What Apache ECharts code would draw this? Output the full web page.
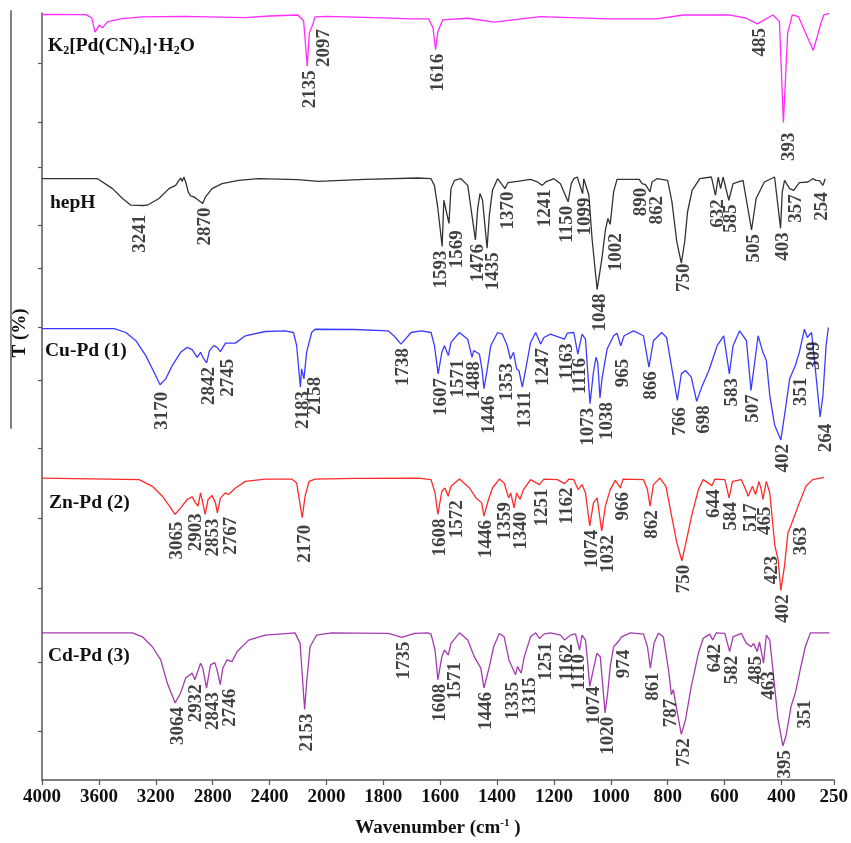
<!DOCTYPE html>
<html><head><meta charset="utf-8">
<script src="https://cdn.jsdelivr.net/npm/echarts@6/dist/echarts.min.js"></script>
<style>html,body{margin:0;padding:0;background:#fff;}#c{width:851px;height:843px;}</style>
</head><body><div id="c"></div>
<script>
// ---------- axis ----------
const TICK_LABELS = ['4000','3600','3200','2800','2400','2000','1800','1600','1400','1200','1000','800','600','400','250'];
// wavenumber -> tick-slot position (the axis changes scale at 2000 cm-1)
const AXIS_KNOTS = [[4000, 0], [2000, 5], [0, 15]];
const Y_TICKS = [722, 663, 618, 559, 516, 456, 403, 334, 264, 193, 119, 49];

// ---------- spectra [wavenumber, T (offset, arbitrary units)] ----------
const K2_SPECTRUM = [[4000,771.5],[3690,771.3],[3650,768],[3627,753.7],[3597,761],[3575,758],[3540,764],[3450,767],[3300,769],[3000,769.5],[2570,768.3],[2400,770],[2200,771],[2160,765],[2135,719.3],[2120,753],[2097,761],[2080,769],[2000,769.5],[1800,768],[1700,767],[1640,767],[1625,758],[1616,736],[1608,754.3],[1591,766],[1503,767.7],[1410,763.7],[1248,769.3],[1007,767],[838,767],[745,771],[583,771],[523,767.7],[485,762],[430,771],[418,767.7],[407,764.3],[393,662.7],[378,753],[362,771],[340,769.3],[288,735.3],[261,762.7],[251,771],[232,772.7]];
const HEPH_SPECTRUM = [[4000,606],[3609,606],[3504,596],[3434,586],[3375,579.3],[3290,579],[3259,579.3],[3177,586],[3107,596],[3060,599.3],[3037,604.3],[3025,606.7],[3014,603.3],[3002,607.7],[2986,601],[2972,592.7],[2955,588.7],[2932,587.7],[2909,585.3],[2870,581],[2850,587.7],[2804,596],[2734,601],[2617,604.3],[2477,606],[2200,605],[2057,603.3],[1865,605.3],[1678,606.7],[1632,606],[1620,599],[1608,576],[1593,537.7],[1587,584.3],[1569,561],[1562,596],[1550,604.3],[1527,606],[1503,599.3],[1476,544.3],[1468,576],[1460,591],[1451,584.3],[1435,536],[1427,569.3],[1416,594.3],[1398,606],[1372,596],[1362,602],[1328,603.3],[1282,605.3],[1258,602.7],[1241,599.3],[1229,602.7],[1200,606],[1177,601],[1150,582.7],[1139,601],[1130,606],[1118,607.7],[1099,591],[1095,606],[1089,607.7],[1077,589.3],[1066,546],[1048,494.3],[1031,526],[1019,554.3],[1010,566],[1002,560],[990,592.7],[978,605.3],[900,605.3],[890,601],[878,600],[862,592.7],[855,602.7],[838,606],[800,604.3],[785,582.7],[768,542.7],[752,521],[740,542.7],[730,572.7],[714,594.3],[687,606],[646,607.7],[632,589.3],[622,607.7],[614,596],[605,607.7],[585,584.3],[570,601],[535,604.3],[505,554.3],[489,586],[460,602.7],[424,607.7],[403,556],[397,592.7],[389,604.3],[371,596],[357,594.3],[337,602],[307,602.7],[290,606],[278,604.3],[266,604],[254,599.3],[246,606]];
const CU_SPECTRUM = [[4000,455],[3492,455],[3410,451],[3340,442.7],[3270,427.7],[3212,411],[3170,398.3],[3130,404.3],[3084,417.7],[3025,431],[2979,436],[2944,433.7],[2909,426],[2885,431],[2869,426],[2842,420.3],[2822,432.7],[2792,437.7],[2769,436],[2745,431.7],[2710,440.3],[2640,440.3],[2570,447.7],[2430,452],[2290,452.7],[2232,451],[2209,437.7],[2183,396],[2174,414.3],[2158,404.3],[2139,431],[2104,451],[2080,454.3],[1900,454],[1783,452.7],[1760,447],[1738,439.3],[1702,451],[1667,452.7],[1632,451],[1620,437.7],[1607,409.3],[1594,431],[1585,437.7],[1571,427.7],[1562,441],[1532,451],[1503,444.3],[1488,426],[1482,432.7],[1462,429.3],[1453,414.3],[1446,394.3],[1436,411],[1422,437.7],[1398,451],[1381,449.3],[1364,437.7],[1353,424.3],[1342,431],[1331,414.3],[1323,412.7],[1311,396],[1299,414.3],[1282,441],[1264,451],[1247,439.3],[1235,446],[1212,449.3],[1190,447],[1163,444.3],[1153,450.3],[1130,451],[1116,429.3],[1101,449.3],[1089,444.3],[1081,411],[1073,379.3],[1061,411],[1052,426],[1046,421],[1038,385],[1031,404.3],[1013,434.3],[990,447.7],[978,450.3],[965,437.7],[953,447.7],[920,452.7],[885,447.7],[866,416],[850,442.7],[821,451],[804,446],[783,411],[766,382.7],[752,409.3],[737,412.7],[717,406],[698,381.7],[678,397.7],[655,412.7],[626,437.7],[603,447.7],[583,409.3],[570,437.7],[547,452.7],[523,442.7],[507,392.7],[494,421],[482,447.7],[465,431],[453,422.7],[441,387.7],[424,357.7],[402,342.7],[389,367.7],[371,404.3],[351,417.7],[337,431],[319,454.3],[309,446],[294,451],[282,417.7],[264,366],[254,387.7],[243,437.7],[235,456]];
const ZN_SPECTRUM = [[4000,304.3],[3317,302.7],[3224,296],[3154,286],[3095,274.3],[3065,267.7],[3025,274.3],[2979,282.7],[2944,285.3],[2920,279.3],[2903,276],[2885,289.3],[2869,279.3],[2853,267.7],[2832,282.7],[2804,286.7],[2780,279.3],[2767,269.3],[2745,284.3],[2710,289.3],[2687,287.7],[2640,294.3],[2570,301],[2430,303.3],[2244,303.3],[2209,299.3],[2170,264.3],[2150,286],[2122,301],[2080,303.3],[1900,304],[1678,304.3],[1632,302.7],[1618,289.3],[1608,267.7],[1594,291],[1583,294.3],[1572,286],[1562,296],[1532,303.3],[1497,294.3],[1474,284.3],[1454,279.3],[1446,266],[1430,282.7],[1416,294.3],[1392,303.3],[1375,299.3],[1359,284.3],[1352,289.3],[1340,274.3],[1331,289.3],[1319,282.7],[1307,292.7],[1282,302.7],[1251,297.7],[1235,303.3],[1188,302.7],[1162,298.7],[1147,303.3],[1130,302.7],[1115,292.7],[1101,297.7],[1089,289.3],[1074,256],[1061,279.3],[1048,284.3],[1032,251],[1019,276],[1002,292.7],[984,302],[966,294.3],[957,303.3],[885,302.7],[871,292.7],[862,276],[850,297.7],[827,304.3],[806,296],[786,266],[768,239.3],[750,221],[733,242.7],[716,266],[692,292.7],[675,302.7],[644,296.7],[634,303.3],[599,302.7],[584,284.3],[572,301],[541,302.7],[523,291],[517,286],[502,296],[491,287.7],[479,301],[471,292.7],[465,282.7],[453,301],[441,289.3],[423,236],[412,222.7],[402,191],[389,216],[377,249.3],[363,259.3],[337,279.3],[314,296],[290,302.7],[250,305]];
const CD_SPECTRUM = [[4000,148.3],[3364,148.3],[3294,144.3],[3224,134.3],[3165,121],[3119,97.7],[3064,77.7],[3025,87.7],[2990,102.7],[2944,107.7],[2925,101],[2885,117.7],[2869,112.7],[2843,92.7],[2815,116],[2785,118.3],[2769,111],[2746,96],[2729,112.7],[2699,121],[2664,119.3],[2629,129.3],[2547,141],[2430,146],[2220,148.3],[2185,137.7],[2169,104.3],[2153,71],[2139,97.7],[2115,134.3],[2069,146],[1982,148.3],[1783,147.7],[1760,146],[1735,143.7],[1690,147.7],[1643,148.3],[1632,147],[1618,131],[1608,101],[1594,124.3],[1585,131],[1571,126],[1562,137.7],[1532,148.3],[1503,141],[1480,124.3],[1457,112.7],[1446,92.7],[1427,114.3],[1412,134.3],[1392,147.7],[1375,144.3],[1358,121],[1335,106],[1328,114.3],[1315,107.7],[1304,124.3],[1282,144.3],[1264,148.3],[1251,142.7],[1235,147],[1212,148.3],[1177,146],[1162,141],[1142,146],[1124,147.3],[1110,131],[1101,146],[1089,141],[1081,117.7],[1074,94.3],[1064,107.7],[1049,127.7],[1037,124.3],[1020,67.7],[1011,87.7],[1002,114.3],[990,134.3],[974,139.3],[962,144.3],[931,148.3],[885,147],[871,134.3],[861,112.7],[848,137.7],[833,148],[815,144.3],[797,111],[787,86],[780,91],[768,71],[752,46],[737,61],[717,94.3],[692,127.7],[675,142.7],[652,147],[642,141],[629,148.3],[599,147.7],[582,129.3],[570,144.3],[541,147.7],[523,137.7],[506,134.3],[498,137.7],[485,129.3],[477,139.3],[463,117.7],[453,146],[441,141],[430,111],[412,61],[395,34.3],[384,44.3],[366,74.3],[351,87.7],[334,111],[316,134.3],[298,148.3],[231,148.3]];

// ---------- labelled bands (cm-1) ----------
const K2_PEAKS = [2135, 2097, 1616, 485, 393];
const HEPH_PEAKS = [3241, 2870, 1593, 1569, 1476, 1435, 1370, 1241, 1150, 1099, 1048, 1002, 890, 862, 750, 632, 585, 505, 403, 357, 254];
const CU_PEAKS = [3170, 2842, 2745, 2183, 2158, 1738, 1607, 1571, 1488, 1446, 1353, 1311, 1247, 1163, 1116, 1073, 1038, 965, 866, 766, 698, 583, 507, 402, 351, 309, 264];
const ZN_PEAKS = [3065, 2903, 2853, 2767, 2170, 1608, 1572, 1446, 1359, 1340, 1251, 1162, 1074, 1032, 966, 862, 750, 644, 584, 517, 465, 423, 402, 363];
const CD_PEAKS = [3064, 2932, 2843, 2746, 2153, 1735, 1608, 1571, 1446, 1335, 1315, 1251, 1162, 1110, 1074, 1020, 974, 861, 787, 752, 642, 582, 485, 463, 395, 351];

// ---------- layout: label nudges in screen pixels [dx, dy] ----------
const LABEL_GAP = 4;
const LABEL_SHIFT_X = 2.5;
const LABEL_NUDGE = {
  K2: {2097:[9,0], 393:[3,6]},
  hepH: {3241:[-12,7], 1593:[-4,0], 1569:[6,3], 1435:[4,0], 1150:[-4,0], 1002:[3,5], 890:[-3,0], 862:[5,0], 254:[-3,3]},
  Cu: {3170:[0,3], 2745:[5,3], 2158:[9,-6], 1571:[7,0], 1446:[3,3], 1353:[-6,0], 1073:[-4,0], 1038:[5,0], 965:[0,9], 698:[5,0], 766:[0,3], 351:[3,8], 309:[4,0], 264:[3,3]},
  Zn: {3065:[0,3], 2903:[-4,3], 2853:[5,0], 2767:[11,0], 2170:[0,3], 1572:[6,0], 1359:[-6,0], 1340:[5,0], 1032:[4,0], 517:[0,3], 465:[0,3], 423:[-5,6], 363:[7,0]},
  Cd: {2932:[0,3], 2843:[4,0], 2746:[7,0], 1571:[4,3], 1335:[-5,3], 1315:[6,0], 1251:[4,0], 1110:[-3,0], 1074:[2,-4], 974:[3,4], 787:[-3,0], 485:[-4,0], 463:[3,4], 351:[7,3]}
};

const SERIF = 'Liberation Serif';
const SPECTRA = [
  {key:'K2', color:'#ff2bff', data:K2_SPECTRUM, peaks:K2_PEAKS, title:'{n|K}{s|2}{n|[Pd(CN)}{s|4}{n|]·H}{s|2}{n|O}', left:48, top:36},
  {key:'hepH', color:'#333333', data:HEPH_SPECTRUM, peaks:HEPH_PEAKS, title:'{n|hepH}', left:50, top:193},
  {key:'Cu', color:'#3b3bff', data:CU_SPECTRUM, peaks:CU_PEAKS, title:'{n|Cu-Pd (1)}', left:45, top:341},
  {key:'Zn', color:'#ff2a2a', data:ZN_SPECTRUM, peaks:ZN_PEAKS, title:'{n|Zn-Pd (2)}', left:49, top:493},
  {key:'Cd', color:'#a33cae', data:CD_SPECTRUM, peaks:CD_PEAKS, title:'{n|Cd-Pd (3)}', left:48, top:646}
];

function slot(w) {
  for (let i = 0; i < AXIS_KNOTS.length - 1; i++) {
    const a = AXIS_KNOTS[i], b = AXIS_KNOTS[i + 1];
    if (w >= b[0] || i === AXIS_KNOTS.length - 2) {
      return a[1] + (a[0] - w) * (b[1] - a[1]) / (a[0] - b[0]);
    }
  }
}
function valueAt(data, w) {
  for (let i = 0; i < data.length - 1; i++) {
    const a = data[i], b = data[i + 1];
    if (a[0] >= w && b[0] <= w) {
      return a[0] === b[0] ? a[1] : a[1] + (a[0] - w) * (b[1] - a[1]) / (a[0] - b[0]);
    }
  }
  return data[data.length - 1][1];
}

const richText = {
  n: {fontFamily: SERIF, fontWeight: 'bold', fontSize: 19.5, color: '#111', lineHeight: 20},
  s: {fontFamily: SERIF, fontWeight: 'bold', fontSize: 12, color: '#111', lineHeight: 12, padding: [10, 0, 0, 0]}
};

const series = [];
const titles = [];
SPECTRA.forEach(sp => {
  series.push({
    type: 'line', name: sp.key, showSymbol: false, silent: true,
    lineStyle: {color: sp.color, width: 1.3},
    itemStyle: {color: sp.color},
    data: sp.data.map(p => [slot(p[0]), p[1]]),
    z: 2
  });
  const nudge = LABEL_NUDGE[sp.key] || {};
  series.push({
    type: 'scatter', name: sp.key + ' bands', symbolSize: 1, silent: true,
    itemStyle: {color: 'rgba(0,0,0,0)'},
    label: {
      show: true, position: 'inside', rotate: 90, align: 'right', verticalAlign: 'middle',
      formatter: '{b}', fontFamily: SERIF, fontWeight: 'bold', fontSize: 19, color: '#111'
    },
    data: sp.peaks.map(w => {
      const d = nudge[w] || [0, 0];
      // label offset is expressed in the rotated text frame: local x points up, local y points right
      return {name: String(w), value: [slot(w), valueAt(sp.data, w)],
              label: {offset: [-(LABEL_GAP + d[1]), d[0] + LABEL_SHIFT_X]}};
    }),
    z: 3
  });
  titles.push({text: sp.title, left: sp.left, top: sp.top, padding: 0, textStyle: {rich: richText}});
});

const chart = echarts.init(document.getElementById('c'), null, {renderer: 'canvas'});
chart.setOption({
  animation: false,
  backgroundColor: '#fff',
  title: titles,
  grid: [
    {left: 42, right: 13, top: 13, bottom: 57},
    {left: 11, top: 11, width: 1, height: 417}
  ],
  xAxis: [{
    type: 'value', min: 0, max: 13.92, interval: 1,
    axisLine: {show: true, lineStyle: {color: '#555', width: 1.5}},
    axisTick: {show: true, length: 5, lineStyle: {color: '#555', width: 1.2}},
    splitLine: {show: false},
    axisLabel: {
      showMaxLabel: true, showMinLabel: true, margin: 8,
      fontFamily: SERIF, fontWeight: 'bold', fontSize: 19, color: '#111',
      formatter: v => v > 13.5 ? TICK_LABELS[14] : TICK_LABELS[Math.round(v)]
    },
    name: '{a|Wavenumber (cm}{sup|-1}{a| )}', nameLocation: 'middle', nameGap: 38,
    nameTextStyle: {rich: {
      a: {fontFamily: SERIF, fontWeight: 'bold', fontSize: 19, color: '#111', lineHeight: 20},
      sup: {fontFamily: SERIF, fontWeight: 'bold', fontSize: 11, color: '#111', lineHeight: 11, padding: [0, 0, 9, 0]}
    }}
  }, {
    gridIndex: 1, type: 'value', min: 0, max: 1, show: false
  }],
  yAxis: [{
    type: 'value', min: 0, max: 773,
    axisLine: {show: true, lineStyle: {color: '#555', width: 1.5}},
    axisTick: {show: true, length: 4, customValues: Y_TICKS, lineStyle: {color: '#555', width: 1.2}},
    axisLabel: {show: false},
    splitLine: {show: false}
  }, {
    gridIndex: 1, type: 'value', min: 0, max: 1,
    axisLine: {show: true, lineStyle: {color: '#808080', width: 2}},
    axisTick: {show: false}, axisLabel: {show: false}, splitLine: {show: false}
  }],
  graphic: [{
    type: 'text', x: 20, y: 333, rotation: Math.PI / 2,
    style: {text: 'T (%)', fontFamily: SERIF, fontWeight: 'bold', fontSize: 19, fill: '#111', align: 'center', verticalAlign: 'middle'}
  }],
  series: series
});
</script></body></html>
